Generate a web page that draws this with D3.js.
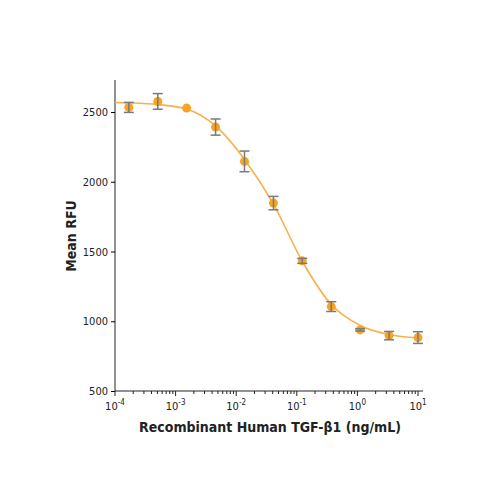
<!DOCTYPE html>
<html><head><meta charset="utf-8">
<script src="https://cdn.jsdelivr.net/npm/d3@7"></script>
<style>body{margin:0;background:#fff}text{font-family:"DejaVu Sans Condensed","DejaVu Sans",sans-serif;font-stretch:condensed}</style>
</head><body><svg id="c" width="500" height="500"></svg>
<script>
const conc = [1.69e-4, 5.08e-4, 1.52e-3, 4.57e-3, 0.0137, 0.0412, 0.123, 0.37, 1.11, 3.33, 10];
const rfu = [2533, 2576, 2528, 2392, 2146, 1847, 1433, 1105, 938, 897, 883];
const err = [36, 56, 0, 58, 74, 48, 18, 35, 8, 30, 42];
const fitX = [1e-4, 1.69e-4, 5.08e-4, 1.52e-3, 4.57e-3, 0.0137, 0.0412, 0.123, 0.37, 1.11, 3.33, 10];
const fitY = [2568, 2565, 2553, 2522, 2400, 2160, 1840, 1430, 1120, 970, 905, 880];
const yTicks = [500, 1000, 1500, 2000, 2500];
const xMajor = [1e-4, 1e-3, 1e-2, 1e-1, 1, 10];

const svg = d3.select("#c");
const x = d3.scaleLog().domain([1e-4, 10]).range([115, 418]);
const y = d3.scaleLinear().domain([500, 2500]).range([391, 112]);
const axisColor = "#222";

// axes lines
svg.append("line").attr("x1",115).attr("x2",115).attr("y1",80).attr("y2",391).attr("stroke",axisColor);
svg.append("line").attr("x1",115).attr("x2",423).attr("y1",391).attr("y2",391).attr("stroke",axisColor);

const yg = svg.append("g").attr("transform","translate(115,0)")
  .call(d3.axisLeft(y).tickValues(yTicks).tickSize(4).tickFormat(d3.format("d")));
yg.select(".domain").remove();
yg.selectAll("text").attr("font-size",11).attr("fill","#222");

const minors = [];
for (let e=-4;e<1;e++) for (let m=2;m<10;m++) minors.push(m*Math.pow(10,e));
const xg = svg.append("g").attr("transform","translate(0,391)");
xg.selectAll(".mn").data(minors).join("line").attr("x1",d=>x(d)).attr("x2",d=>x(d)).attr("y1",0).attr("y2",3).attr("stroke",axisColor);
xg.selectAll(".mj").data(xMajor).join("line").attr("x1",d=>x(d)).attr("x2",d=>x(d)).attr("y1",0).attr("y2",5).attr("stroke",axisColor);
const lbl = xg.selectAll(".lb").data(xMajor).join("text").attr("x",d=>x(d)).attr("y",19).attr("text-anchor","middle").attr("font-size",11).attr("fill","#222");
lbl.append("tspan").text("10");
lbl.append("tspan").attr("dy",-5).attr("font-size",8).text(d=>Math.round(Math.log10(d)));

svg.append("text").attr("x",270).attr("y",432).attr("text-anchor","middle").attr("font-size",14).attr("font-weight","bold").attr("fill","#222").text("Recombinant Human TGF-β1 (ng/mL)");
svg.append("text").attr("transform","translate(76,236) rotate(-90)").attr("text-anchor","middle").attr("font-size",14).attr("font-weight","bold").attr("fill","#222").text("Mean RFU");

// fit curve
svg.append("path").datum(fitX.map((d,i)=>[d,fitY[i]]))
  .attr("d", d3.line().x(d=>x(d[0])).y(d=>y(d[1])).curve(d3.curveMonotoneX))
  .attr("fill","none").attr("stroke","#f8b04a").attr("stroke-width",1.6);

const pts = conc.map((c,i)=>({c, v:rfu[i], e:err[i]}));
svg.selectAll(".pt").data(pts).join("circle").attr("cx",d=>x(d.c)).attr("cy",d=>y(d.v)).attr("r",4.5).attr("fill","#f7a326");
const eb = svg.selectAll(".eb").data(pts.filter(d=>d.e>0)).join("g").attr("stroke","#7a7a7a").attr("stroke-width",1.5);
eb.append("line").attr("x1",d=>x(d.c)).attr("x2",d=>x(d.c)).attr("y1",d=>y(d.v-d.e)).attr("y2",d=>y(d.v+d.e));
eb.append("line").attr("x1",d=>x(d.c)-5).attr("x2",d=>x(d.c)+5).attr("y1",d=>y(d.v-d.e)).attr("y2",d=>y(d.v-d.e));
eb.append("line").attr("x1",d=>x(d.c)-5).attr("x2",d=>x(d.c)+5).attr("y1",d=>y(d.v+d.e)).attr("y2",d=>y(d.v+d.e));
</script></body></html>
